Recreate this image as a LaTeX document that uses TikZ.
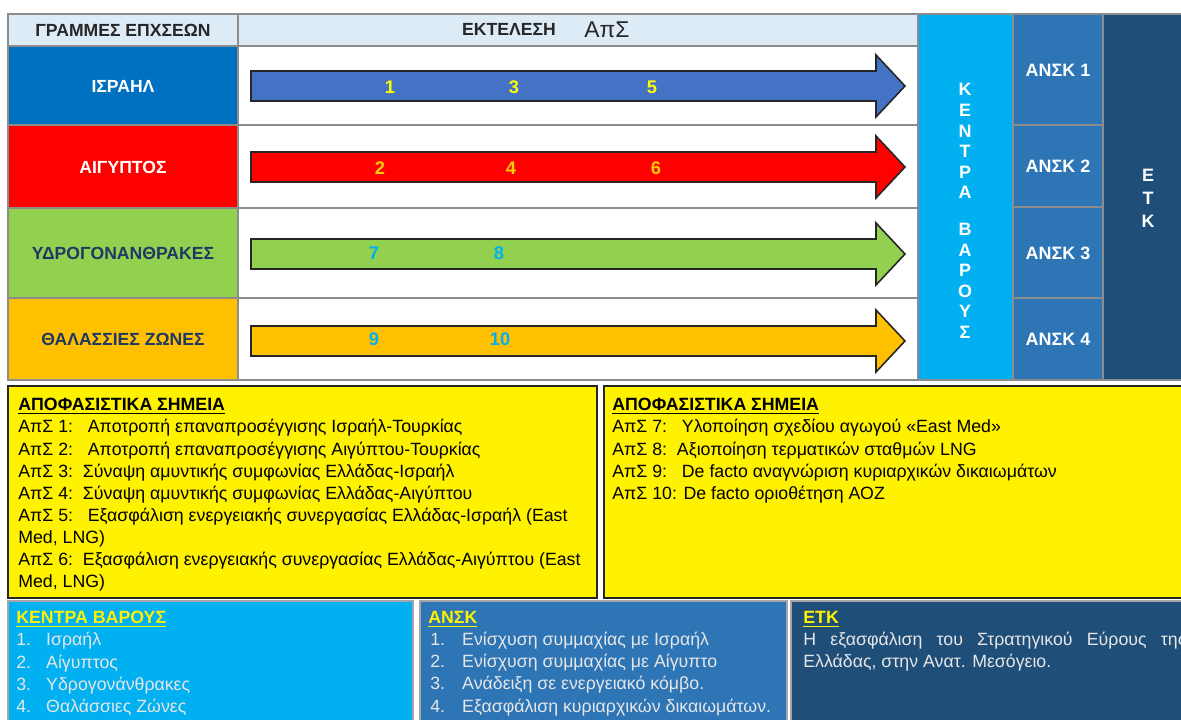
\documentclass[tikz,border=0pt]{standalone}
\usepackage{fontspec}
\setmainfont{Liberation Sans}
\usetikzlibrary{calc}
\definecolor{hdrblue}{HTML}{DDEBF7}
\definecolor{isrblue}{HTML}{0070C0}
\definecolor{arrblue}{HTML}{4472C4}
\definecolor{egyred}{HTML}{FF0000}
\definecolor{hydgreen}{HTML}{92D050}
\definecolor{zonorange}{HTML}{FFC000}
\definecolor{kbcyan}{HTML}{00B0F0}
\definecolor{anskblue}{HTML}{2E75B6}
\definecolor{etknavy}{HTML}{1F4E79}
\definecolor{darknavy}{HTML}{1F3864}
\definecolor{gridgray}{HTML}{8C8C8C}
\definecolor{numyellow}{HTML}{FFFF00}
\definecolor{numgold}{HTML}{FFD000}
\definecolor{hdrtext}{HTML}{262626}
\definecolor{listtext}{HTML}{E6E6E6}
\newcommand{\cell}[5]{ \fill[#5] ( #1 , #2 ) rectangle ( #3 , #4 ); \draw[gridline] ( #1 , #2 ) rectangle ( #3 , #4 );}
\newcommand{\blockarrow}[2]{ \draw[arrowline,fill=#2] (251,{#1-15}) -- (876,{#1-15}) -- (876,{#1-31}) -- (905,#1) -- (876,{#1+31}) -- (876,{#1+15}) -- (251,{#1+15}) -- cycle;}
\newcommand{\listitem}[3][17pt]{\makebox[#1][l]{#2}#3}
\tikzset{
  gridline/.style={draw=gridgray, line width=0.7pt},
  arrowline/.style={draw=black!85, line width=0.9pt},
  rowlabel/.style={font=\fontsize{10}{12}\selectfont\bfseries, inner sep=0pt},
  milestone/.style={font=\fontsize{10.4}{12}\selectfont\bfseries, inner sep=0pt},
  colletters/.style={font=\fontsize{10.2}{11.7}\selectfont\bfseries, text=white, inner sep=0pt, align=center},
  notetext/.style={font=\fontsize{10.1}{12.6}\selectfont, anchor=north west, inner sep=0pt, align=left},
  notebox/.style={draw=black!85, line width=1.6pt, fill=yellow},
  infobox/.style={draw=gray!70, line width=1.2pt},
}
\begin{document}
\begin{tikzpicture}[x=0.02cm, y=-0.02cm]
        \useasboundingbox (0,0) rectangle (1181,720);

        % header
        \cell{8}{14}{238}{46}{hdrblue}
        \cell{238}{14}{918}{46}{hdrblue}
        \node[rowlabel, text=hdrtext] (hdrlines) at (123,30) {ΓΡΑΜΜΕΣ ΕΠΧΣΕΩΝ};
        \node[rowlabel, text=hdrtext] (hdrexec) at (509,29) {ΕΚΤΕΛΕΣΗ};
        \node[text=hdrtext, font=\fontsize{13}{15}\selectfont, inner sep=0pt] (hdraps) at (607,30) {ΑπΣ};

        % row 1
        \cell{8}{46}{238}{125}{isrblue}
        \cell{238}{46}{918}{125}{white}
        \node[rowlabel, text=white] (lblisr) at (123,86) {ΙΣΡΑΗΛ};
        \blockarrow{86}{arrblue}
        \node[milestone, text=numyellow] (n1) at (390,87) {1};
        \node[milestone, text=numyellow] (n3) at (514,87) {3};
        \node[milestone, text=numyellow] (n5) at (652,87) {5};

        % row 2
        \cell{8}{125}{238}{208}{egyred}
        \cell{238}{125}{918}{208}{white}
        \node[rowlabel, text=white] (lblegy) at (123,167) {ΑΙΓΥΠΤΟΣ};
        \blockarrow{167}{egyred}
        \node[milestone, text=numgold] (n2) at (380,168) {2};
        \node[milestone, text=numgold] (n4) at (511,168) {4};
        \node[milestone, text=numgold] (n6) at (656,168) {6};

        % row 3
        \cell{8}{208}{238}{298}{hydgreen}
        \cell{238}{208}{918}{298}{white}
        \node[rowlabel, text=darknavy] (lblhyd) at (123,253) {ΥΔΡΟΓΟΝΑΝΘΡΑΚΕΣ};
        \blockarrow{254}{hydgreen}
        \node[milestone, text=kbcyan] (n7) at (374,253) {7};
        \node[milestone, text=kbcyan] (n8) at (499,253) {8};

        % row 4
        \cell{8}{298}{238}{380}{zonorange}
        \cell{238}{298}{918}{380}{white}
        \node[rowlabel, text=darknavy] (lblzon) at (123,339) {ΘΑΛΑΣΣΙΕΣ ΖΩΝΕΣ};
        \blockarrow{341}{zonorange}
        \node[milestone, text=kbcyan] (n9) at (374,339) {9};
        \node[milestone, text=kbcyan] (n10) at (500,339) {10};

        % right columns
        \cell{918}{14}{1013}{380}{kbcyan}
        \node[colletters] (kbletters) at (965,211) {Κ\\Ε\\Ν\\Τ\\Ρ\\Α\\[9.3pt]Β\\Α\\Ρ\\Ο\\Υ\\Σ};

        \cell{1013}{14}{1103}{125}{anskblue}
        \cell{1013}{125}{1103}{207}{anskblue}
        \cell{1013}{207}{1103}{298}{anskblue}
        \cell{1013}{298}{1103}{380}{anskblue}
        \node[colletters] (ansk1) at (1058,70) {ΑΝΣΚ 1};
        \node[colletters] (ansk2) at (1058,166) {ΑΝΣΚ 2};
        \node[colletters] (ansk3) at (1058,253) {ΑΝΣΚ 3};
        \node[colletters] (ansk4) at (1058,339) {ΑΝΣΚ 4};

        \cell{1103}{14}{1195}{380}{etknavy}
        \node[colletters, font=\fontsize{10.2}{13}\selectfont\bfseries] (etkletters) at (1148,198) {Ε\\Τ\\Κ};

        % decision points
        \draw[notebox] (8,386) rectangle (597,598);
        \node[notetext] (notesA) at (18,398) {\textbf{\underline{ΑΠΟΦΑΣΙΣΤΙΚΑ ΣΗΜΕΙΑ}}\\
          ΑπΣ 1:\ \ \ Αποτροπή επαναπροσέγγισης Ισραήλ-Τουρκίας\\
          ΑπΣ 2:\ \ \ Αποτροπή επαναπροσέγγισης Αιγύπτου-Τουρκίας\\
          ΑπΣ 3:\ \ Σύναψη αμυντικής συμφωνίας Ελλάδας-Ισραήλ\\
          ΑπΣ 4:\ \ Σύναψη αμυντικής συμφωνίας Ελλάδας-Αιγύπτου\\
          ΑπΣ 5:\ \ \ Εξασφάλιση ενεργειακής συνεργασίας Ελλάδας-Ισραήλ (East\\
          Med, LNG)\\
          ΑπΣ 6:\ \ Εξασφάλιση ενεργειακής συνεργασίας Ελλάδας-Αιγύπτου (East\\
          Med, LNG)};

        \draw[notebox] (604,386) rectangle (1195,598);
        \node[notetext] (notesB) at (612,398) {\textbf{\underline{ΑΠΟΦΑΣΙΣΤΙΚΑ ΣΗΜΕΙΑ}}\\
          ΑπΣ 7:\ \ \ Υλοποίηση σχεδίου αγωγού «East Med»\\
          ΑπΣ 8:\ \ Αξιοποίηση τερματικών σταθμών LNG\\
          ΑπΣ 9:\ \ \ De facto αναγνώριση κυριαρχικών δικαιωμάτων\\
          ΑπΣ 10: De facto οριοθέτηση ΑΟΖ};

        % bottom boxes
        \draw[infobox, fill=kbcyan] (8,601) rectangle (413,725);
        \node[notetext, text=listtext] (kblist) at (16,611) {\textcolor{yellow}{\textbf{\underline{ΚΕΝΤΡΑ ΒΑΡΟΥΣ}}}\\
          \listitem{1.}{Ισραήλ}\\
          \listitem{2.}{Αίγυπτος}\\
          \listitem{3.}{Υδρογονάνθρακες}\\
          \listitem{4.}{Θαλάσσιες Ζώνες}};

        \draw[infobox, fill=anskblue] (420,601) rectangle (787,725);
        \node[notetext, text=listtext] (anskList) at (428,611) {\textcolor{yellow}{\textbf{\underline{ΑΝΣΚ}}}\\
          \listitem[19.3pt]{\hspace{1.1pt}1.}{Ενίσχυση συμμαχίας με Ισραήλ}\\
          \listitem[19.3pt]{\hspace{1.1pt}2.}{Ενίσχυση συμμαχίας με Αίγυπτο}\\
          \listitem[19.3pt]{\hspace{1.1pt}3.}{Ανάδειξη σε ενεργειακό κόμβο.}\\
          \listitem[19.3pt]{\hspace{1.1pt}4.}{Εξασφάλιση κυριαρχικών δικαιωμάτων.}};

        \draw[infobox, fill=etknavy] (791,601) rectangle (1195,725);
        \node[notetext, text=listtext] (etktext) at (803,611) {\textcolor{yellow}{\textbf{\underline{ΕΤΚ}}}\\
          \makebox[218pt][s]{Η εξασφάλιση του Στρατηγικού Εύρους της}\\
          Ελλάδας, στην Ανατ. Μεσόγειο.};

    \end{tikzpicture}
\end{document}
